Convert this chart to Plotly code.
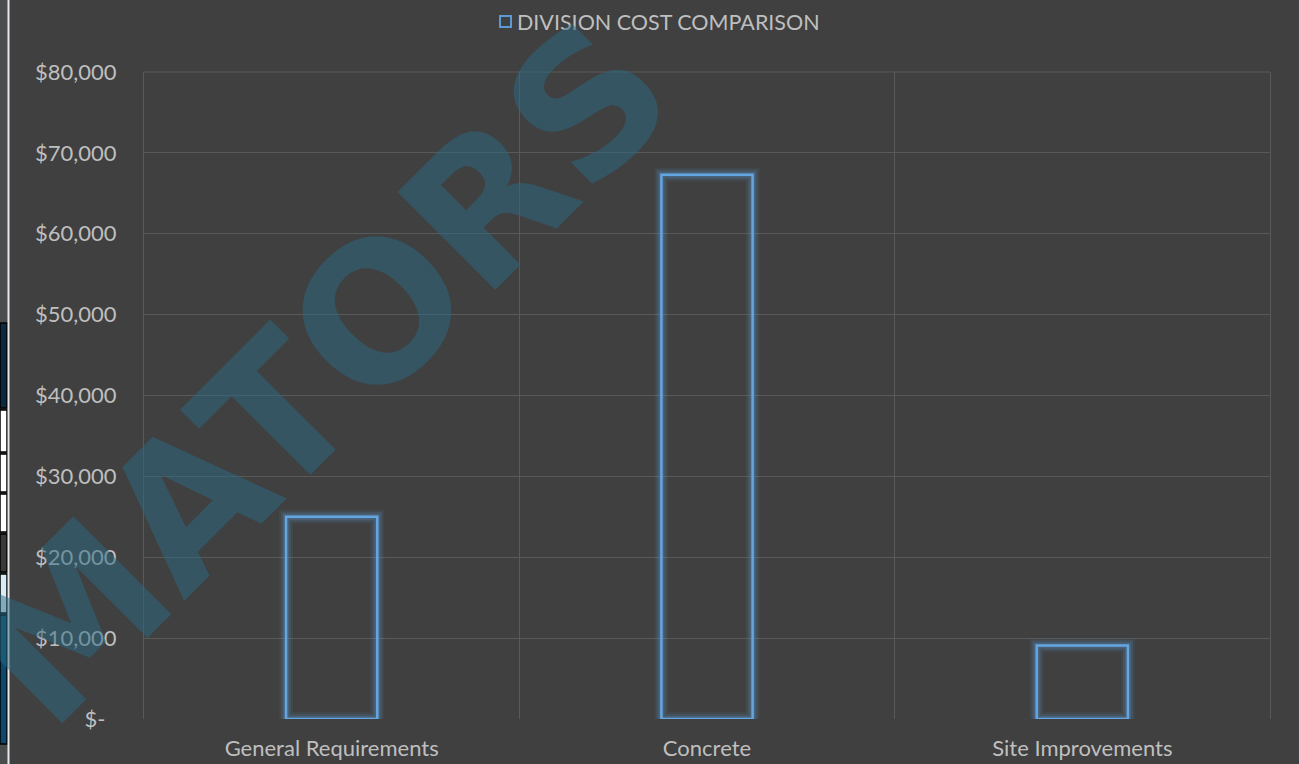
import plotly.graph_objects as go

# ---- data ----
categories = ["General Requirements", "Concrete", "Site Improvements"]
costs = [25000, 67300, 9100]
series_name = "DIVISION COST COMPARISON"
y_tick_values = [0, 10000, 20000, 30000, 40000, 50000, 60000, 70000, 80000]
y_tick_labels = ["$-\u00a0\u00a0", "$10,000", "$20,000", "$30,000", "$40,000",
                 "$50,000", "$60,000", "$70,000", "$80,000"]

W, H = 1299, 764
ML, MR, MT, MB = 144, 29, 72, 45
PW, PH = W - ML - MR, H - MT - MB

def px_x(px):
    return (px - ML) / PW

def px_y(py):
    return (H - MB - py) / PH

BG = "#404040"
TXT = "#BFBFBF"
GRID = "#595959"
BLUE = "#5B9BD5"
FONT = "Lato, 'Open Sans', sans-serif"

fig = go.Figure()

# glow layers
for lw, col in [(14, "rgba(91,155,213,0.08)"), (10, "rgba(91,155,213,0.14)"), (6, "rgba(91,155,213,0.22)")]:
    fig.add_trace(go.Bar(x=categories, y=costs, showlegend=False, hoverinfo="skip",
                         marker=dict(color="rgba(0,0,0,0)", line=dict(color=col, width=lw))))
# main outline
fig.add_trace(go.Bar(x=categories, y=costs, name=series_name, showlegend=False,
                     marker=dict(color="rgba(0,0,0,0)", line=dict(color="#64A6E2", width=2.5))))

shapes = []
# top border of plot area (gridline at $80,000)
shapes.append(dict(type="line", xref="paper", yref="paper", x0=0, x1=1, y0=1, y1=1,
                   line=dict(color=GRID, width=1), layer="below"))
# legend square
shapes.append(dict(type="rect", xref="paper", yref="paper",
                   x0=px_x(500), x1=px_x(511), y0=px_y(27), y1=px_y(16),
                   line=dict(color=BLUE, width=2), fillcolor="rgba(0,0,0,0)"))
# left edge artifacts
shapes.append(dict(type="rect", xref="paper", yref="paper", x0=px_x(0), x1=px_x(8),
                   y0=px_y(764), y1=px_y(0), line=dict(width=0), fillcolor="#4a4d4d", layer="above"))
boxes = [(323, 408, "#0b2a40"), (410, 452, "#ffffff"), (454, 492, "#ffffff"), (494, 532, "#ffffff"),
         (534, 572, "#3a3a3a"), (574, 613, "#d8ecf5"), (615, 744, "#0b4a6e")]
for y0, y1, c in boxes:
    shapes.append(dict(type="rect", xref="paper", yref="paper", x0=px_x(0), x1=px_x(7),
                       y0=px_y(y1), y1=px_y(y0), line=dict(color="#000000", width=1.5),
                       fillcolor=c, layer="above"))
shapes.append(dict(type="line", xref="paper", yref="paper", x0=px_x(8.5), x1=px_x(8.5),
                   y0=px_y(764), y1=px_y(0), line=dict(color="#e8e8e8", width=2), layer="above"))

annotations = [
    dict(text=series_name, xref="paper", yref="paper", x=px_x(515), y=px_y(21.5),
         xanchor="left", yanchor="middle", showarrow=False,
         font=dict(family=FONT, size=21.5, color=TXT)),
    dict(text="MATORS", xref="paper", yref="paper", x=px_x(320), y=px_y(372),
         xanchor="center", yanchor="middle", showarrow=False, textangle=-45,
         font=dict(family="DejaVu Sans, sans-serif", size=190, color="rgba(42,106,132,0.5)",
                   weight="bold")),
]

fig.update_layout(
    width=W, height=H,
    margin=dict(l=ML, r=MR, t=MT, b=MB, pad=0),
    paper_bgcolor=BG, plot_bgcolor=BG,
    barmode="overlay", bargap=0.757,
    font=dict(family=FONT, size=22, color=TXT),
    shapes=shapes, annotations=annotations,
    xaxis=dict(type="category", tickson="boundaries", showgrid=True, gridcolor=GRID, gridwidth=1,
               ticks="", ticklabelstandoff=14, showline=False, zeroline=False, automargin=False,
               tickfont=dict(family=FONT, size=22, color=TXT), fixedrange=True),
    yaxis=dict(range=[0, 80000], tickvals=y_tick_values, ticktext=y_tick_labels,
               showgrid=True, gridcolor=GRID, gridwidth=1, zeroline=False, automargin=False,
               showline=True, mirror=True, linecolor=GRID, linewidth=1,
               ticks="outside", ticklen=22, tickcolor="rgba(0,0,0,0)",
               tickfont=dict(family=FONT, size=22, color=TXT), fixedrange=True),
    showlegend=False,
)

fig.write_html("out.html", config={"displayModeBar": False})
